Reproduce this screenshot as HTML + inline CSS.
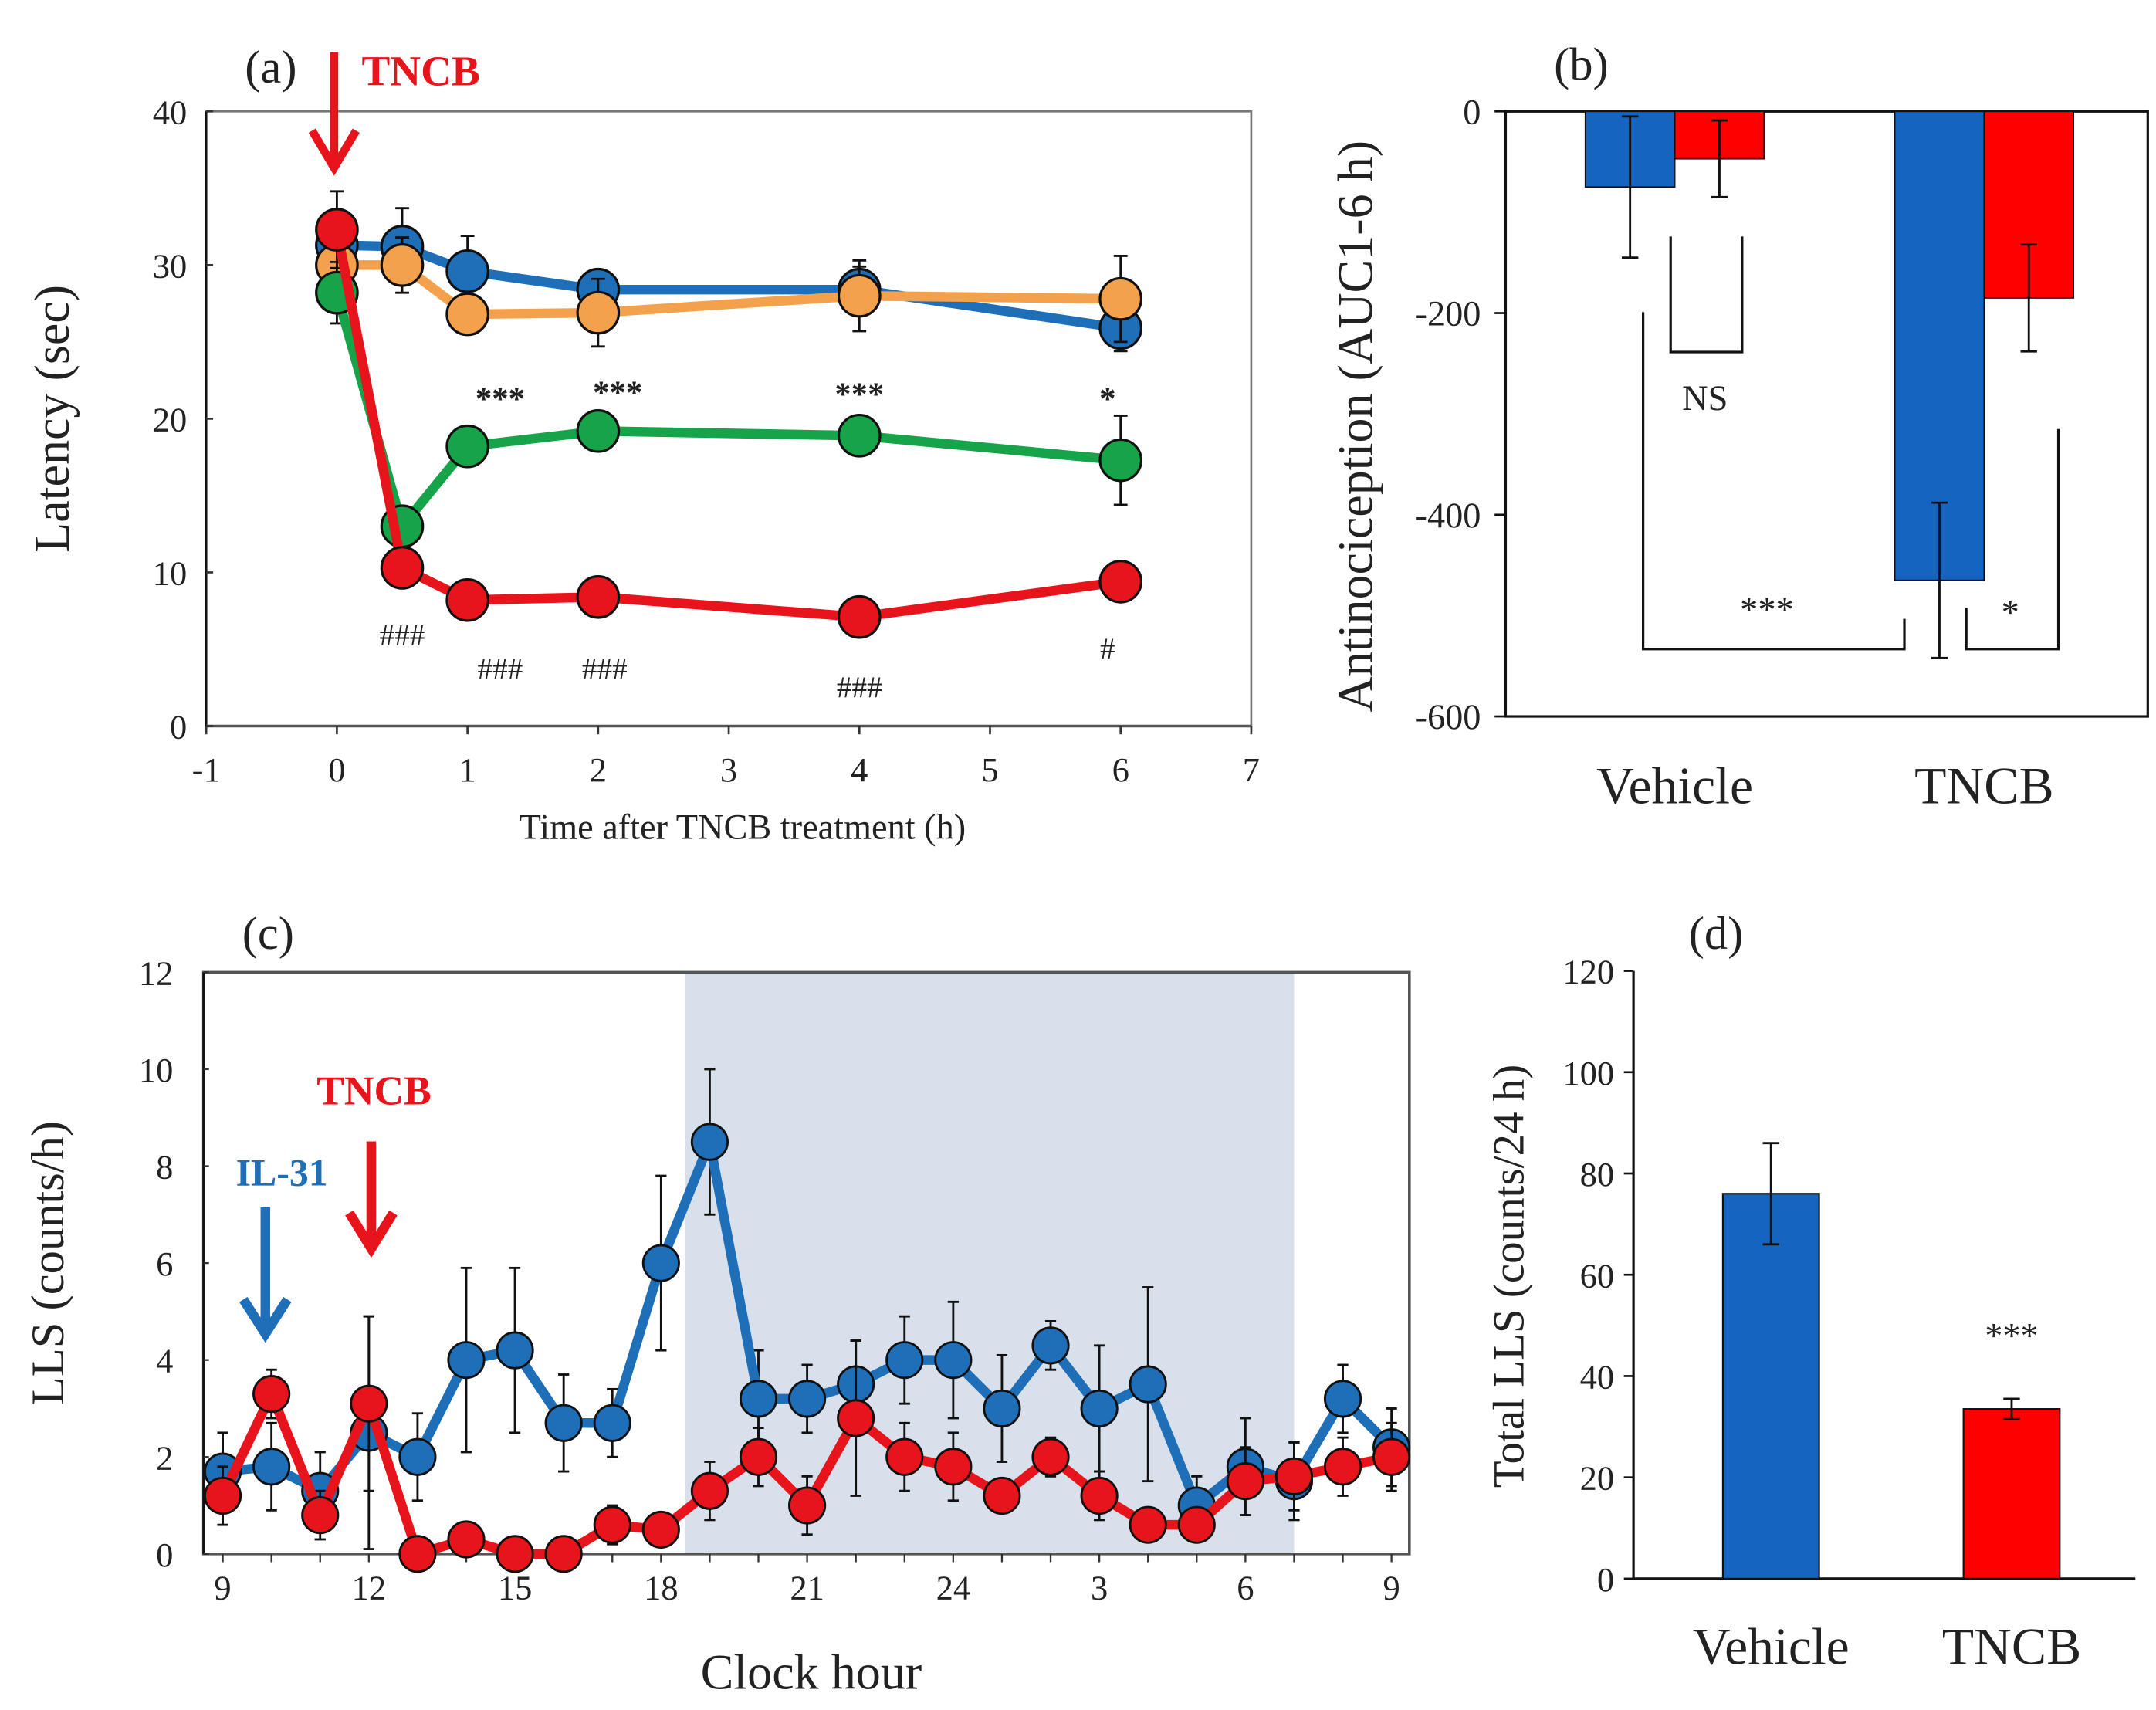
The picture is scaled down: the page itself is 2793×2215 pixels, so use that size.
<!DOCTYPE html>
<html><head><meta charset="utf-8"><style>
html,body{margin:0;padding:0;background:#fff}
svg{display:block}
text{font-family:"Liberation Serif",serif;fill:#222}
</style></head><body>
<svg id="fig" width="2793" height="2215" viewBox="0 0 1568 1243.5" xmlns="http://www.w3.org/2000/svg"></svg>
<script>
// ---------- Panel (a) data ----------
const aTimes=[0,0.5,1,2,4,6];
const aBlue=[31.3,31.2,29.6,28.4,28.4,25.9];
const aBlueErr=[1.2,2.5,2.3,1.2,1.5,1.5];
const aOrange=[30.0,30.0,26.8,26.9,28.0,27.8];
const aOrangeErr=[1.5,1.8,1.2,2.2,2.3,2.8];
const aGreen=[28.2,13.0,18.2,19.2,18.9,17.3];
const aGreenErr=[2.0,1.0,1.0,1.0,1.0,2.9];
const aRed=[32.3,10.3,8.2,8.4,7.1,9.4];
const aRedErr=[2.5,0.8,0.8,0.8,0.8,0.8];
const aXTicks=[-1,0,1,2,3,4,5,6,7];
const aYTicks=[0,10,20,30,40];
// ---------- Panel (b) data ----------
const bCats=["Vehicle","TNCB"];
const bBlue=[-75,-465];
const bBlueErr=[70,77];
const bRed=[-47,-185];
const bRedErr=[38,53];
const bYTicks=[0,-200,-400,-600];
// ---------- Panel (c) data ----------
const cHours=[9,10,11,12,13,14,15,16,17,18,19,20,21,22,23,24,25,26,27,28,29,30,31,32,33];
const cBlue=[1.7,1.8,1.3,2.5,2.0,4.0,4.2,2.7,2.7,6.0,8.5,3.2,3.2,3.5,4.0,4.0,3.0,4.3,3.0,3.5,1.0,1.8,1.5,3.2,2.2];
const cBlueErr=[0.8,0.9,0.8,2.4,0.9,1.9,1.7,1.0,0.7,1.8,1.5,1.0,0.7,0.9,0.9,1.2,1.1,0.5,1.3,2.0,0.6,1.0,0.8,0.7,0.8];
const cRed=[1.2,3.3,0.8,3.1,0.0,0.3,0.0,0.0,0.6,0.5,1.3,2.0,1.0,2.8,2.0,1.8,1.2,2.0,1.2,0.6,0.6,1.5,1.6,1.8,2.0];
const cRedErr=[0.6,0.5,0.5,1.8,0,0.1,0,0,0.4,0.3,0.6,0.6,0.6,1.6,0.7,0.7,0.2,0.4,0.5,0.1,0.1,0.7,0.7,0.6,0.7];
const cXTickHours=[9,12,15,18,21,24,27,30,33];
const cXTickLabels=["9","12","15","18","21","24","3","6","9"];
const cYTicks=[0,2,4,6,8,10,12];
const cDark=[18.5,31];
// ---------- Panel (d) data ----------
const dCats=["Vehicle","TNCB"];
const dValues=[76,33.5];
const dErr=[10,2];
const dYTicks=[0,20,40,60,80,100,120];

const NS="http://www.w3.org/2000/svg";
const svg=document.getElementById('fig');
function el(tag,attrs,parent,txt){const e=document.createElementNS(NS,tag);for(const k in attrs)e.setAttribute(k,attrs[k]);if(txt!==undefined)e.textContent=txt;(parent||svg).appendChild(e);return e;}
function grp(name){const g=el('g',{});return g;}
function txt(g,x,y,s,size,opts){opts=opts||{};const t=el('text',Object.assign({x:x,y:y,'font-size':size,'text-anchor':opts.anchor||'middle'},opts.extra||{}),g,s);if(opts.fill)t.setAttribute('style','fill:'+opts.fill);return t;}
function errbar(g,x,y1,y2,cap){el('line',{x1:x,y1:y1,x2:x,y2:y2,stroke:'#111','stroke-width':1.6},g);el('line',{x1:x-cap,y1:y2,x2:x+cap,y2:y2,stroke:'#111','stroke-width':1.6},g);}

// ===== Panel A =====
(function(){
const L=150,R=910,T=81,B=528;
const xA=v=>L+(v+1)*(R-L)/8, yA=v=>B-v*(B-T)/40;
const g=grp('panel-a');
el('rect',{x:L,y:T,width:R-L,height:B-T,fill:'none',stroke:'#777','stroke-width':1.5},g);
el('line',{x1:L,y1:T,x2:L,y2:B,stroke:'#111','stroke-width':1.5},g);
el('line',{x1:L,y1:B,x2:R,y2:B,stroke:'#555','stroke-width':2},g);
aXTicks.forEach(v=>{el('line',{x1:xA(v),y1:B,x2:xA(v),y2:B+6,stroke:'#333','stroke-width':1.5},g);const t=txt(g,xA(v),B+40,String(v),25);});
aYTicks.forEach(v=>{el('line',{x1:L,y1:yA(v),x2:L+5,y2:yA(v),stroke:'#333','stroke-width':1.5},g);const t=txt(g,L-14,yA(v)+9,String(v),25,{anchor:'end'});});
const yl=txt(g,0,0,'Latency (sec)',36,{extra:{transform:`translate(50,${(T+B)/2}) rotate(-90)`}});

const xl=txt(g,540,610,'Time after  TNCB treatment (h)',26);

txt(g,197,60,'(a)',34);
const tn=txt(g,263,62,'TNCB',31,{anchor:'start',fill:'#e8141b',extra:{'font-weight':'bold'}});

el('line',{x1:243,y1:38,x2:243,y2:118,stroke:'#e8141b','stroke-width':6},g);
el('polyline',{points:'227,95 243,122 259,95',fill:'none',stroke:'#e8141b','stroke-width':6},g);
const series=[[aBlue,aBlueErr,'#1f6fb8','series-vehicle-blue'],[aOrange,aOrangeErr,'#f4a14d','series-orange'],[aGreen,aGreenErr,'#17a34a','series-green'],[aRed,aRedErr,'#e8141b','series-red']];
series.forEach(([vals,errs,col,name])=>{
 const sg=el('g',{},g);
 vals.forEach((v,i)=>errbar(sg,xA(aTimes[i]),yA(v),yA(v+errs[i]),5));
 vals.forEach((v,i)=>errbar(sg,xA(aTimes[i]),yA(v),yA(v-errs[i]),5));
 el('polyline',{points:vals.map((v,i)=>xA(aTimes[i])+','+yA(v)).join(' '),fill:'none',stroke:col,'stroke-width':7},sg);
 vals.forEach((v,i)=>{const c=el('circle',{cx:xA(aTimes[i]),cy:yA(v),r:15,fill:col,stroke:'#111','stroke-width':1.8},sg);});
});
[[1.25,21.5,'***'],[2.15,21.9,'***'],[4.0,21.8,'***'],[5.9,21.5,'*']].forEach(([x,y,s])=>txt(g,xA(x),yA(y)+10,s,24,{extra:{'font-weight':'bold'}}));
[[0.5,6.0,'###'],[1.25,3.8,'###'],[2.05,3.8,'###'],[4.0,2.6,'###'],[5.9,5.1,'#']].forEach(([x,y,s])=>txt(g,xA(x),yA(y)+8,s,22));
})();

// ===== Panel B =====
(function(){
const L=1095,R=1562,T=81,B=521;
const yB=v=>T-v*(B-T)/600;
const g=grp('panel-b');
el('rect',{x:L,y:T,width:R-L,height:B-T,fill:'none',stroke:'#111','stroke-width':1.8},g);
bYTicks.forEach(v=>{el('line',{x1:L-8,y1:yB(v),x2:L,y2:yB(v),stroke:'#111','stroke-width':1.5},g);txt(g,L-18,yB(v)+9,String(v),26,{anchor:'end'});});
const yl=txt(g,0,0,'Antinociception (AUC1-6 h)',36,{extra:{transform:`translate(998,310) rotate(-90)`}});

txt(g,1150,58,'(b)',34);
const cx=[1218,1443],bw=65;
bCats.forEach((c,i)=>{
 const b1=el('rect',{x:cx[i]-bw,y:yB(0),width:bw,height:yB(bBlue[i])-yB(0),fill:'#1565c0',stroke:'#111','stroke-width':1},g);
 
 const b2=el('rect',{x:cx[i],y:yB(0),width:bw,height:yB(bRed[i])-yB(0),fill:'#ff0000',stroke:'#111','stroke-width':1},g);
 
 el('line',{x1:cx[i]-bw/2,y1:yB(bBlue[i]+bBlueErr[i]),x2:cx[i]-bw/2,y2:yB(bBlue[i]-bBlueErr[i]),stroke:'#111','stroke-width':1.6},g);
 [bBlue[i]+bBlueErr[i],bBlue[i]-bBlueErr[i]].forEach(v=>el('line',{x1:cx[i]-bw/2-6,y1:yB(v),x2:cx[i]-bw/2+6,y2:yB(v),stroke:'#111','stroke-width':1.6},g));
 el('line',{x1:cx[i]+bw/2,y1:yB(bRed[i]+bRedErr[i]),x2:cx[i]+bw/2,y2:yB(bRed[i]-bRedErr[i]),stroke:'#111','stroke-width':1.6},g);
 [bRed[i]+bRedErr[i],bRed[i]-bRedErr[i]].forEach(v=>el('line',{x1:cx[i]+bw/2-6,y1:yB(v),x2:cx[i]+bw/2+6,y2:yB(v),stroke:'#111','stroke-width':1.6},g));
 const t=txt(g,cx[i],584,c,38);
});
const s={stroke:'#111','stroke-width':1.8,fill:'none'};
el('polyline',Object.assign({points:'1215,172 1215,256 1267,256 1267,172'},s),g);
txt(g,1240,298,'NS',26);
el('polyline',Object.assign({points:'1195,227 1195,472 1385,472 1385,450'},s),g);
txt(g,1285,452,'***',26);
el('polyline',Object.assign({points:'1430,442 1430,472 1497,472 1497,312'},s),g);
txt(g,1462,454,'*',26);
})();

// ===== Panel C =====
(function(){
const L=148,R=1025,T=707,B=1130;
const xC=h=>162+(h-9)*(1012-162)/24, yC=v=>B-v*(B-T)/12;
const g=grp('panel-c');
const sh=el('rect',{x:xC(cDark[0]),y:T,width:xC(cDark[1])-xC(cDark[0]),height:B-T,fill:'#d8e0eb'},g);

el('rect',{x:L,y:T,width:R-L,height:B-T,fill:'none',stroke:'#555','stroke-width':2},g);
el('line',{x1:L,y1:T,x2:L,y2:B,stroke:'#111','stroke-width':1.5},g);
cHours.forEach(h=>el('line',{x1:xC(h),y1:B,x2:xC(h),y2:B+6,stroke:'#333','stroke-width':1.3},g));
cXTickHours.forEach((h,i)=>txt(g,xC(h),B+33,cXTickLabels[i],25));
cYTicks.forEach(v=>{el('line',{x1:L,y1:yC(v),x2:L+4,y2:yC(v),stroke:'#333','stroke-width':1.3},g);txt(g,L-22,yC(v)+9,String(v),25,{anchor:'end'});});
const yl=txt(g,0,0,'LLS (counts/h)',34,{extra:{transform:`translate(46,${(T+B)/2}) rotate(-90)`,'font-family':'Liberation Sans'}});

const xl=txt(g,590,1228,'Clock hour',36);
txt(g,195,690,'(c)',34);
txt(g,205,862,'IL-31',28,{fill:'#1f6fb8',extra:{'font-weight':'bold'}});
el('line',{x1:193,y1:878,x2:193,y2:968,stroke:'#1f6fb8','stroke-width':7},g);
el('polyline',{points:'177,945 193,970 209,945',fill:'none',stroke:'#1f6fb8','stroke-width':7},g);
txt(g,272,803,'TNCB',30,{fill:'#e8141b',extra:{'font-weight':'bold'}});
el('line',{x1:270,y1:830,x2:270,y2:907,stroke:'#e8141b','stroke-width':7},g);
el('polyline',{points:'254,882 270,908 286,882',fill:'none',stroke:'#e8141b','stroke-width':7},g);
[[cBlue,cBlueErr,'#1f6fb8','series-vehicle'],[cRed,cRedErr,'#e8141b','series-tncb']].forEach(([vals,errs,col,name])=>{
 const sg=el('g',{},g);
 vals.forEach((v,i)=>{if(errs[i]>0){errbar(sg,xC(cHours[i]),yC(v),yC(v+errs[i]),4);errbar(sg,xC(cHours[i]),yC(v),yC(v-errs[i]),4);}});
 el('polyline',{points:vals.map((v,i)=>xC(cHours[i])+','+yC(v)).join(' '),fill:'none',stroke:col,'stroke-width':7},sg);
 vals.forEach((v,i)=>{const c=el('circle',{cx:xC(cHours[i]),cy:yC(v),r:13,fill:col,stroke:'#111','stroke-width':1.6},sg);});
});
})();

// ===== Panel D =====
(function(){
const L=1188,R=1553,T=706,B=1148;
const yD=v=>B-v*(B-T)/120;
const g=grp('panel-d');
el('line',{x1:L,y1:T,x2:L,y2:B,stroke:'#111','stroke-width':1.8},g);
el('line',{x1:L,y1:B,x2:R,y2:B,stroke:'#111','stroke-width':1.8},g);
dYTicks.forEach(v=>{el('line',{x1:L-7,y1:yD(v),x2:L,y2:yD(v),stroke:'#111','stroke-width':1.5},g);txt(g,L-14,yD(v)+9,String(v),25,{anchor:'end'});});
const yl=txt(g,0,0,'Total LLS (counts/24 h)',32,{extra:{transform:`translate(1108,928) rotate(-90)`}});

txt(g,1248,690,'(d)',34);
const cx=[1288,1463],bw=70,cols=['#1565c0','#ff0000'];
dCats.forEach((c,i)=>{
 const b=el('rect',{x:cx[i]-bw/2,y:yD(dValues[i]),width:bw,height:B-yD(dValues[i]),fill:cols[i],stroke:'#111','stroke-width':1.2},g);
 
 el('line',{x1:cx[i],y1:yD(dValues[i]+dErr[i]),x2:cx[i],y2:yD(dValues[i]-dErr[i]),stroke:'#111','stroke-width':1.6},g);
 [dValues[i]+dErr[i],dValues[i]-dErr[i]].forEach(v=>el('line',{x1:cx[i]-6,y1:yD(v),x2:cx[i]+6,y2:yD(v),stroke:'#111','stroke-width':1.6},g));
 const t=txt(g,cx[i],1210,c,38);
});
txt(g,1463,980,'***',26);
})();
</script>
</body></html>
